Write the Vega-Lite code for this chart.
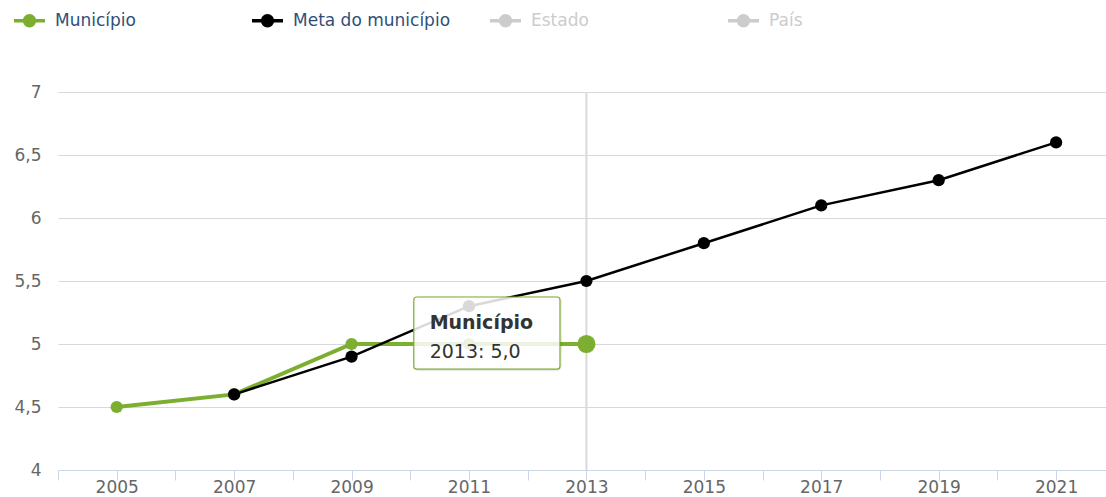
{
  "$schema": "https://vega.github.io/schema/vega-lite/v6.json",
  "width": 1048,
  "height": 378,
  "autosize": "none",
  "padding": {"left": 58, "top": 92, "right": 0, "bottom": 27},
  "background": "white",
  "config": {
    "view": {"stroke": null},
    "axis": {"labelColor": "#666666", "labelFont": "DejaVu Sans", "labelFontSize": 17}
  },
  "data": {
    "values": [
      {"ano": 2005, "serie": "Município", "valor": 4.5},
      {"ano": 2007, "serie": "Município", "valor": 4.6},
      {"ano": 2009, "serie": "Município", "valor": 5.0},
      {"ano": 2011, "serie": "Município", "valor": 5.0},
      {"ano": 2013, "serie": "Município", "valor": 5.0},
      {"ano": 2007, "serie": "Meta do município", "valor": 4.6},
      {"ano": 2009, "serie": "Meta do município", "valor": 4.9},
      {"ano": 2011, "serie": "Meta do município", "valor": 5.3},
      {"ano": 2013, "serie": "Meta do município", "valor": 5.5},
      {"ano": 2015, "serie": "Meta do município", "valor": 5.8},
      {"ano": 2017, "serie": "Meta do município", "valor": 6.1},
      {"ano": 2019, "serie": "Meta do município", "valor": 6.3},
      {"ano": 2021, "serie": "Meta do município", "valor": 6.6}
    ]
  },
  "encoding": {
    "x": {
      "field": "ano", "type": "quantitative",
      "scale": {"domain": [2004, 2021.85], "nice": false, "zero": false},
      "axis": {
        "title": null,
        "values": [2004, 2005, 2006, 2007, 2008, 2009, 2010, 2011, 2012, 2013, 2014, 2015, 2016, 2017, 2018, 2019, 2020, 2021],
        "labelExpr": "datum.value % 2 === 1 ? toString(datum.value) : ''",
        "grid": false,
        "domainColor": "#ccd6eb",
        "domainWidth": 1,
        "tickColor": "#ccd6eb",
        "tickSize": 10,
        "labelPadding": -1,
        "labelFlush": false,
        "labelOverlap": false,
        "encode": {"ticks": {"update": {"strokeOpacity": {"signal": "datum.value % 2 === 1 ? 0 : 1"}}}}
      }
    },
    "y": {
      "field": "valor", "type": "quantitative",
      "scale": {"domain": [4, 7], "nice": false, "zero": false},
      "axis": {
        "title": null,
        "values": [4, 4.5, 5, 5.5, 6, 6.5, 7],
        "labelExpr": "replace(toString(datum.value), '.', ',')",
        "domain": false,
        "ticks": false,
        "gridColor": "#d8d8d8",
        "gridWidth": 1,
        "labelPadding": 17
      }
    }
  },
  "layer": [
    {
      "transform": [{"filter": "datum.ano === 2013 && datum.serie === 'Município'"}],
      "mark": {"type": "rule", "color": "#d9d9d9", "strokeWidth": 2},
      "encoding": {"y": {"datum": 7}, "y2": {"datum": 4}}
    },
    {
      "mark": {"type": "line"},
      "encoding": {
        "color": {
          "field": "serie", "type": "nominal",
          "scale": {"domain": ["Município", "Meta do município", "Estado", "País"], "range": ["#7cae2f", "#000000", "#cccccc", "#cccccc"]},
          "legend": {
            "orient": "none",
            "legendX": -46,
            "legendY": -89,
            "direction": "horizontal",
            "columns": 4,
            "gridAlign": "all",
            "columnPadding": 32,
            "padding": 0,
            "title": null,
            "symbolType": "M-1,0L1,0M-0.32,0A0.32,0.32 0 1,0 0.32,0A0.32,0.32 0 1,0 -0.32,0",
            "symbolSize": 961,
            "symbolStrokeWidth": 3.5,
            "symbolOpacity": 1,
            "labelFont": "DejaVu Sans",
            "labelFontSize": 17,
            "labelOffset": 8,
            "labelLimit": 300,
            "encode": {
              "labels": {"update": {"fill": {"signal": "datum.label === 'Estado' || datum.label === 'País' ? '#cccccc' : '#2f4f78'"}}},
              "symbols": {"update": {"stroke": {"signal": "scale('color', datum.value)"}, "fill": {"signal": "scale('color', datum.value)"}}}
            }
          }
        },
        "strokeWidth": {
          "field": "serie", "type": "nominal",
          "scale": {"domain": ["Município", "Meta do município"], "range": [4, 2.5]},
          "legend": null
        },
        "order": {"field": "ano", "type": "quantitative"}
      }
    },
    {
      "mark": {"type": "point", "shape": "circle", "filled": true, "opacity": 1, "size": 150},
      "encoding": {
        "color": {
          "field": "serie", "type": "nominal",
          "scale": {"domain": ["Município", "Meta do município", "Estado", "País"], "range": ["#7cae2f", "#000000", "#cccccc", "#cccccc"]}
        }
      }
    },
    {
      "transform": [{"filter": "datum.ano === 2013 && datum.serie === 'Município'"}],
      "mark": {"type": "point", "shape": "circle", "filled": true, "opacity": 1, "size": 330, "color": "#7cae2f"}
    },
    {
      "transform": [{"filter": "datum.ano === 2013 && datum.serie === 'Município'"}],
      "mark": {"type": "rect", "fillOpacity": 0, "stroke": "#000000", "strokeOpacity": 0.08, "strokeWidth": 4, "cornerRadius": 4, "xOffset": 1.5, "yOffset": 1.5},
      "encoding": {"x": {"datum": 2010.06}, "x2": {"datum": 2012.55}, "y": {"datum": 5.373}, "y2": {"datum": 4.8}}
    },
    {
      "transform": [{"filter": "datum.ano === 2013 && datum.serie === 'Município'"}],
      "mark": {"type": "rect", "fill": "#ffffff", "fillOpacity": 0.85, "stroke": "#7cae2f", "strokeWidth": 1.2, "cornerRadius": 3},
      "encoding": {"x": {"datum": 2010.06}, "x2": {"datum": 2012.55}, "y": {"datum": 5.373}, "y2": {"datum": 4.8}}
    },
    {
      "transform": [{"filter": "datum.ano === 2013 && datum.serie === 'Município'"}],
      "mark": {"type": "text", "align": "left", "baseline": "middle", "font": "DejaVu Sans", "fontSize": 19, "fontWeight": "bold", "color": "#333333"},
      "encoding": {"x": {"datum": 2010.33}, "y": {"datum": 5.167}, "text": {"field": "serie"}}
    },
    {
      "transform": [
        {"filter": "datum.ano === 2013 && datum.serie === 'Município'"},
        {"calculate": "datum.ano + ': ' + replace(format(datum.valor, '.1f'), '.', ',')", "as": "rotulo"}
      ],
      "mark": {"type": "text", "align": "left", "baseline": "middle", "font": "DejaVu Sans", "fontSize": 19, "color": "#333333"},
      "encoding": {"x": {"datum": 2010.33}, "y": {"datum": 4.937}, "text": {"field": "rotulo"}}
    }
  ]
}
